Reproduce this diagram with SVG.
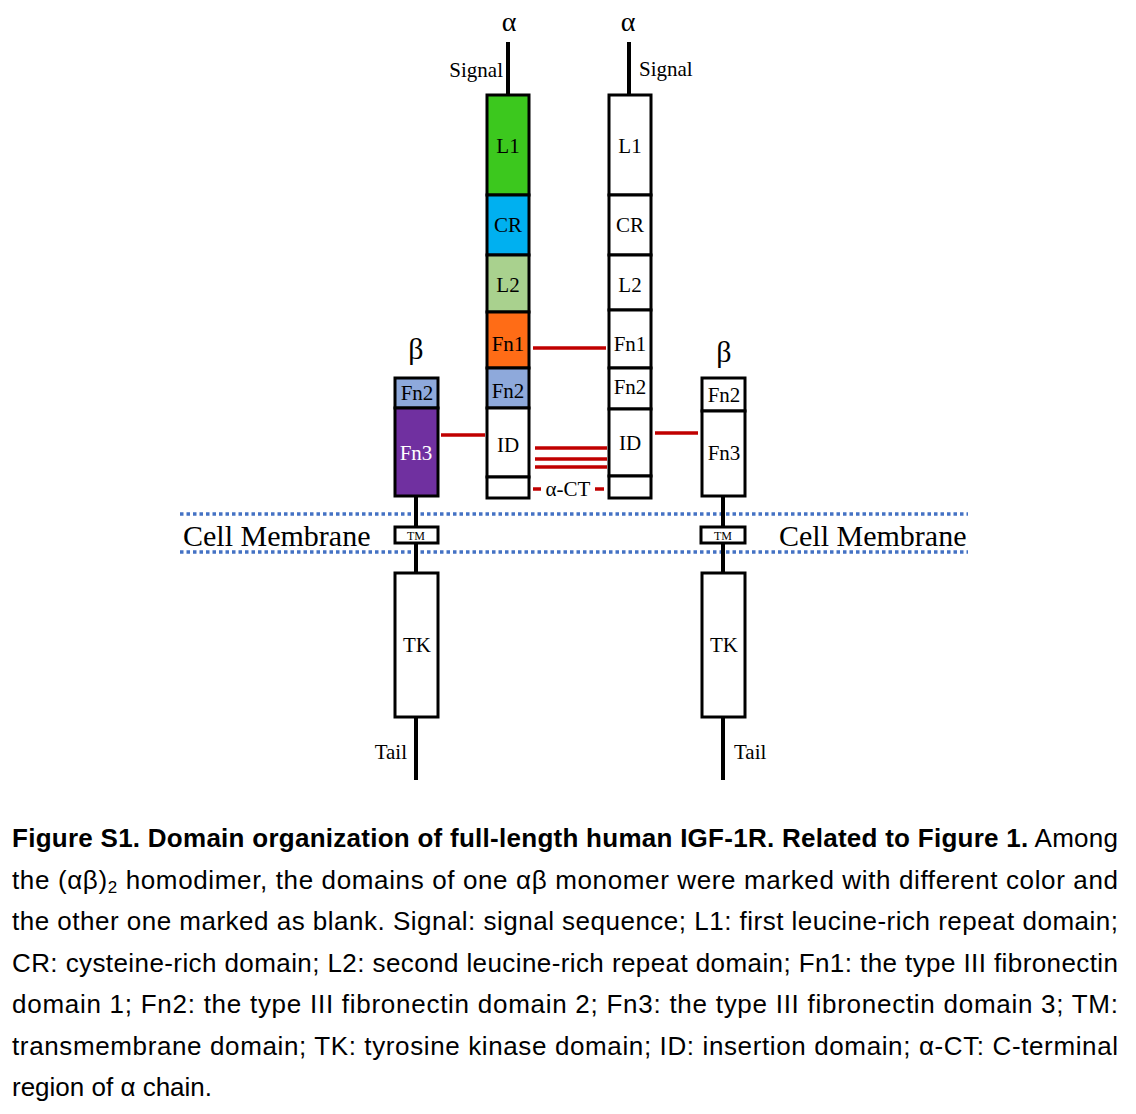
<svg xmlns="http://www.w3.org/2000/svg" width="1136" height="1114" viewBox="0 0 1136 1114">
<style>
.box{stroke:#000;stroke-width:3;}
.lbl{font-family:"Liberation Serif","Times New Roman",serif;font-size:21px;fill:#000;text-anchor:middle;}
.big{font-family:"Liberation Serif","Times New Roman",serif;fill:#000;}
.stem{stroke:#000;stroke-width:4;fill:none;}
.bond{stroke:#C00000;stroke-width:3.5;fill:none;}
.mem{stroke:#4472C4;stroke-width:3.5;stroke-dasharray:3.5 3;fill:none;}
.cap{font-family:"Liberation Sans",Arial,sans-serif;font-size:26px;fill:#000;}
</style>
<rect width="1136" height="1114" fill="#fff"/>

<g id="membrane">
<line class="mem" x1="180" y1="514" x2="968" y2="514"/>
<line class="mem" x1="180" y1="552" x2="968" y2="552"/>
<text class="big" x="183" y="546" font-size="30">Cell Membrane</text>
<text class="big" x="779" y="546" font-size="30">Cell Membrane</text>
</g>

<g id="connectors">
<line class="bond" x1="533" y1="348" x2="606" y2="348"/>
<line class="bond" x1="441" y1="435" x2="485" y2="435"/>
<line class="bond" x1="655" y1="433" x2="698" y2="433"/>
<line class="bond" x1="535" y1="448" x2="607" y2="448"/>
<line class="bond" x1="535" y1="459" x2="607" y2="459"/>
<line class="bond" x1="535" y1="467" x2="607" y2="467"/>
<line class="bond" x1="533" y1="489" x2="541" y2="489"/>
<line class="bond" x1="595" y1="489" x2="604" y2="489"/>
<text class="lbl" x="568" y="496">α-CT</text>
</g>

<g id="alpha-left">
<line class="stem" x1="508" y1="42" x2="508" y2="95"/>
<text class="big" x="509" y="31" font-size="28" text-anchor="middle">α</text>
<text class="big" x="503" y="77" font-size="21" text-anchor="end">Signal</text>
<rect class="box" x="487" y="95" width="42" height="100" fill="#3CC81E"/>
<rect class="box" x="487" y="195" width="42" height="60" fill="#00B0F0"/>
<rect class="box" x="487" y="255" width="42" height="57" fill="#A9D18E"/>
<rect class="box" x="487" y="312" width="42" height="56" fill="#FF6C16"/>
<rect class="box" x="487" y="368" width="42" height="40" fill="#8EA9DB"/>
<rect class="box" x="487" y="408" width="42" height="69" fill="#fff"/>
<rect class="box" x="487" y="477" width="42" height="21" fill="#fff"/>
<text class="lbl" x="508" y="153">L1</text>
<text class="lbl" x="508" y="232">CR</text>
<text class="lbl" x="508" y="292">L2</text>
<text class="lbl" x="508" y="351">Fn1</text>
<text class="lbl" x="508" y="398">Fn2</text>
<text class="lbl" x="508" y="452">ID</text>
</g>

<g id="alpha-right">
<line class="stem" x1="629" y1="42" x2="629" y2="95"/>
<text class="big" x="628" y="31" font-size="28" text-anchor="middle">α</text>
<text class="big" x="639" y="76" font-size="21">Signal</text>
<rect class="box" x="609" y="95" width="42" height="100" fill="#fff"/>
<rect class="box" x="609" y="195" width="42" height="60" fill="#fff"/>
<rect class="box" x="609" y="255" width="42" height="55" fill="#fff"/>
<rect class="box" x="609" y="310" width="42" height="58" fill="#fff"/>
<rect class="box" x="609" y="368" width="42" height="41" fill="#fff"/>
<rect class="box" x="609" y="409" width="42" height="67" fill="#fff"/>
<rect class="box" x="609" y="476" width="42" height="22" fill="#fff"/>
<text class="lbl" x="630" y="153">L1</text>
<text class="lbl" x="630" y="232">CR</text>
<text class="lbl" x="630" y="292">L2</text>
<text class="lbl" x="630" y="351">Fn1</text>
<text class="lbl" x="630" y="394">Fn2</text>
<text class="lbl" x="630" y="450">ID</text>
</g>

<g id="beta-left">
<text class="big" x="416" y="359" font-size="30" text-anchor="middle">β</text>
<line class="stem" x1="416" y1="496" x2="416" y2="573"/>
<line class="stem" x1="416" y1="717" x2="416" y2="780"/>
<rect class="box" x="395" y="378" width="43" height="30" fill="#8EA9DB"/>
<rect class="box" x="395" y="408" width="43" height="88" fill="#7030A0"/>
<text class="lbl" x="417" y="400">Fn2</text>
<text class="lbl" x="416" y="460" style="fill:#fff">Fn3</text>
<rect class="box" x="395" y="527" width="43" height="16" fill="#fff" stroke-width="2.5"/>
<text class="lbl" x="416" y="540" style="font-size:12px">TM</text>
<rect class="box" x="395" y="573" width="43" height="144" fill="#fff"/>
<text class="lbl" x="417" y="652">TK</text>
<text class="big" x="407" y="759" font-size="21" text-anchor="end">Tail</text>
</g>

<g id="beta-right">
<text class="big" x="724" y="362" font-size="30" text-anchor="middle">β</text>
<line class="stem" x1="723" y1="496" x2="723" y2="573"/>
<line class="stem" x1="723" y1="717" x2="723" y2="780"/>
<rect class="box" x="702" y="378" width="43" height="33" fill="#fff"/>
<rect class="box" x="702" y="411" width="43" height="85" fill="#fff"/>
<text class="lbl" x="724" y="402">Fn2</text>
<text class="lbl" x="724" y="460">Fn3</text>
<rect class="box" x="701" y="527" width="44" height="16" fill="#fff" stroke-width="2.5"/>
<text class="lbl" x="723" y="540" style="font-size:12px">TM</text>
<rect class="box" x="702" y="573" width="43" height="144" fill="#fff"/>
<text class="lbl" x="724" y="652">TK</text>
<text class="big" x="734" y="759" font-size="21">Tail</text>
</g>

<g id="caption">
<text class="cap" x="12" y="847" textLength="1106" lengthAdjust="spacing"><tspan font-weight="bold">Figure S1. Domain organization of full-length human IGF-1R. Related to Figure 1.</tspan> Among</text>
<text class="cap" x="12" y="889" textLength="1106" lengthAdjust="spacing">the (αβ)<tspan font-size="17" dy="4">2</tspan><tspan dy="-4"> homodimer, the domains of one αβ monomer were marked with different color and</tspan></text>
<text class="cap" x="12" y="930" textLength="1106" lengthAdjust="spacing">the other one marked as blank. Signal: signal sequence; L1: first leucine-rich repeat domain;</text>
<text class="cap" x="12" y="972" textLength="1106" lengthAdjust="spacing">CR: cysteine-rich domain; L2: second leucine-rich repeat domain; Fn1: the type III fibronectin</text>
<text class="cap" x="12" y="1013" textLength="1106" lengthAdjust="spacing">domain 1; Fn2: the type III fibronectin domain 2; Fn3: the type III fibronectin domain 3; TM:</text>
<text class="cap" x="12" y="1055" textLength="1106" lengthAdjust="spacing">transmembrane domain; TK: tyrosine kinase domain; ID: insertion domain; α-CT: C-terminal</text>
<text class="cap" x="12" y="1096">region of α chain.</text>
</g>
</svg>
